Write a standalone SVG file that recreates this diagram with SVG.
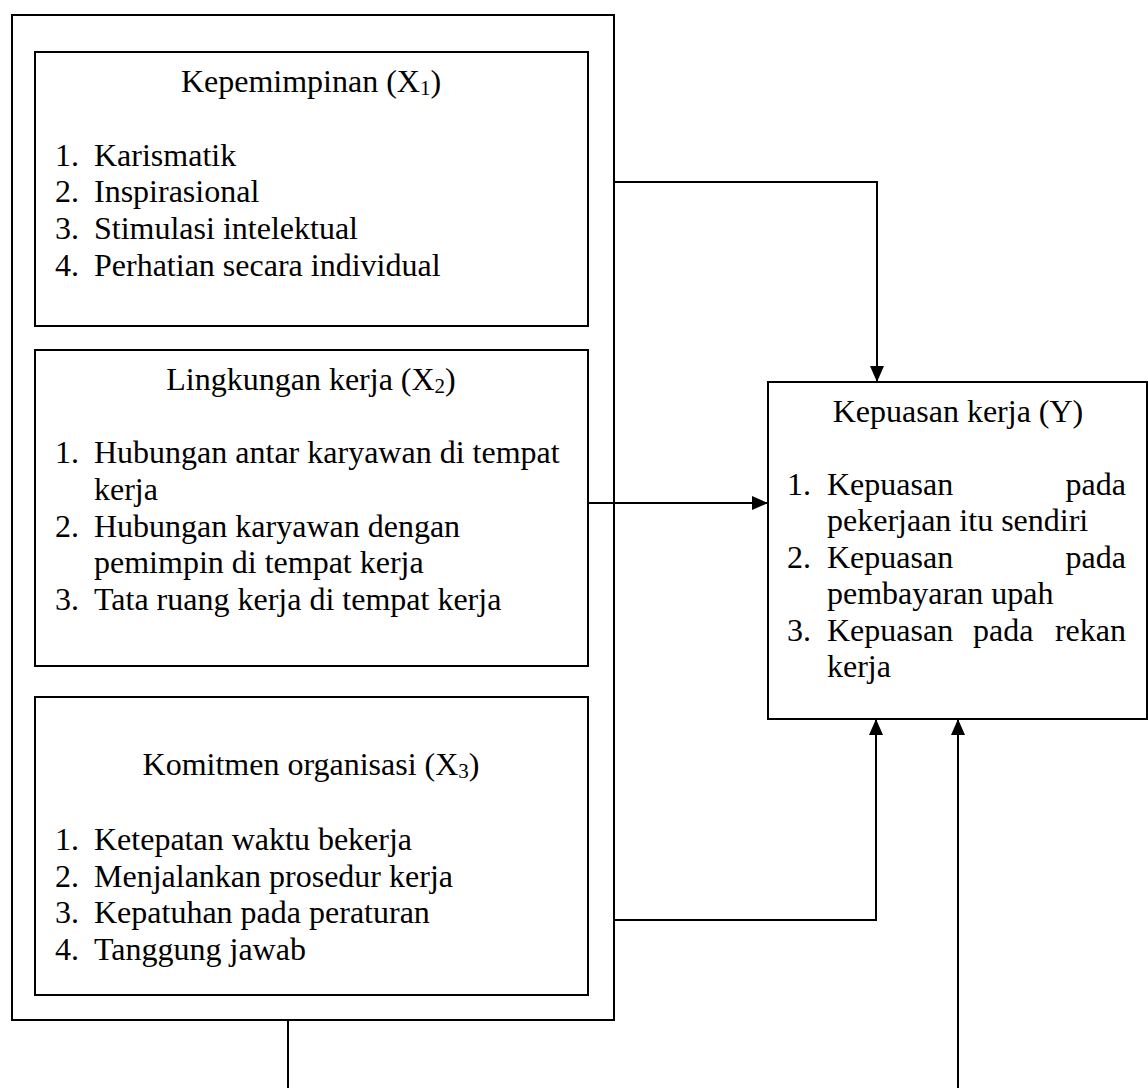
<svg xmlns="http://www.w3.org/2000/svg" width="1148" height="1088" viewBox="0 0 1148 1088">
<style>
  .box { fill: #ffffff; stroke: #000000; stroke-width: 2; }
  .line { fill: none; stroke: #000000; stroke-width: 2; }
  text { font-family: "Liberation Serif", "Times New Roman", serif; font-size: 32px; fill: #000000; }
  .c { text-anchor: middle; }
  .e { text-anchor: end; }
  .sub { font-size: 21px; }
</style>
<defs>
  <marker id="arrow" viewBox="0 0 16 14" refX="16" refY="7" markerWidth="16" markerHeight="14" markerUnits="userSpaceOnUse" orient="auto">
    <path d="M0,0 L16,7 L0,14 Z" fill="#000000"/>
  </marker>
</defs>
<rect x="0" y="0" width="1148" height="1088" fill="#ffffff"/>

<g id="outer">
  <rect class="box" x="12" y="15" width="602" height="1005"/>
</g>

<g id="x1">
  <rect class="box" x="35" y="52" width="553" height="274"/>
  <text class="c" x="311" y="92">Kepemimpinan (X<tspan class="sub" dy="3">1</tspan><tspan dy="-3">)</tspan></text>
  <text x="55" y="166">1.</text><text x="94" y="166">Karismatik</text>
  <text x="55" y="202">2.</text><text x="94" y="202">Inspirasional</text>
  <text x="55" y="239">3.</text><text x="94" y="239">Stimulasi intelektual</text>
  <text x="55" y="276">4.</text><text x="94" y="276">Perhatian secara individual</text>
</g>

<g id="x2">
  <rect class="box" x="35" y="350" width="553" height="316"/>
  <text class="c" x="311" y="390">Lingkungan kerja (X<tspan class="sub" dy="3">2</tspan><tspan dy="-3">)</tspan></text>
  <text x="55" y="463">1.</text><text x="94" y="463">Hubungan antar karyawan di tempat</text>
  <text x="94" y="500">kerja</text>
  <text x="55" y="537">2.</text><text x="94" y="537">Hubungan karyawan dengan</text>
  <text x="94" y="573">pemimpin di tempat kerja</text>
  <text x="55" y="610">3.</text><text x="94" y="610">Tata ruang kerja di tempat kerja</text>
</g>

<g id="x3">
  <rect class="box" x="35" y="697" width="553" height="298"/>
  <text class="c" x="311" y="775">Komitmen organisasi (X<tspan class="sub" dy="3">3</tspan><tspan dy="-3">)</tspan></text>
  <text x="55" y="850">1.</text><text x="94" y="850">Ketepatan waktu bekerja</text>
  <text x="55" y="887">2.</text><text x="94" y="887">Menjalankan prosedur kerja</text>
  <text x="55" y="923">3.</text><text x="94" y="923">Kepatuhan pada peraturan</text>
  <text x="55" y="960">4.</text><text x="94" y="960">Tanggung jawab</text>
</g>

<g id="y">
  <rect class="box" x="768" y="382" width="379" height="337"/>
  <text class="c" x="958" y="422">Kepuasan kerja (Y)</text>
  <text x="787" y="495">1.</text><text x="827" y="495">Kepuasan</text><text class="e" x="1126" y="495">pada</text>
  <text x="827" y="531">pekerjaan itu sendiri</text>
  <text x="787" y="568">2.</text><text x="827" y="568">Kepuasan</text><text class="e" x="1126" y="568">pada</text>
  <text x="827" y="604">pembayaran upah</text>
  <text x="787" y="641">3.</text><text x="827" y="641">Kepuasan</text><text x="973" y="641">pada</text><text class="e" x="1126" y="641">rekan</text>
  <text x="827" y="677">kerja</text>
</g>

<g id="connectors">
  <path class="line" d="M614,182 H877 V382" marker-end="url(#arrow)"/>
  <path class="line" d="M588,503 H768" marker-end="url(#arrow)"/>
  <path class="line" d="M614,920 H876 V719" marker-end="url(#arrow)"/>
  <path class="line" d="M288,1020 V1088"/>
  <path class="line" d="M958,1088 V719" marker-end="url(#arrow)"/>
</g>
</svg>
